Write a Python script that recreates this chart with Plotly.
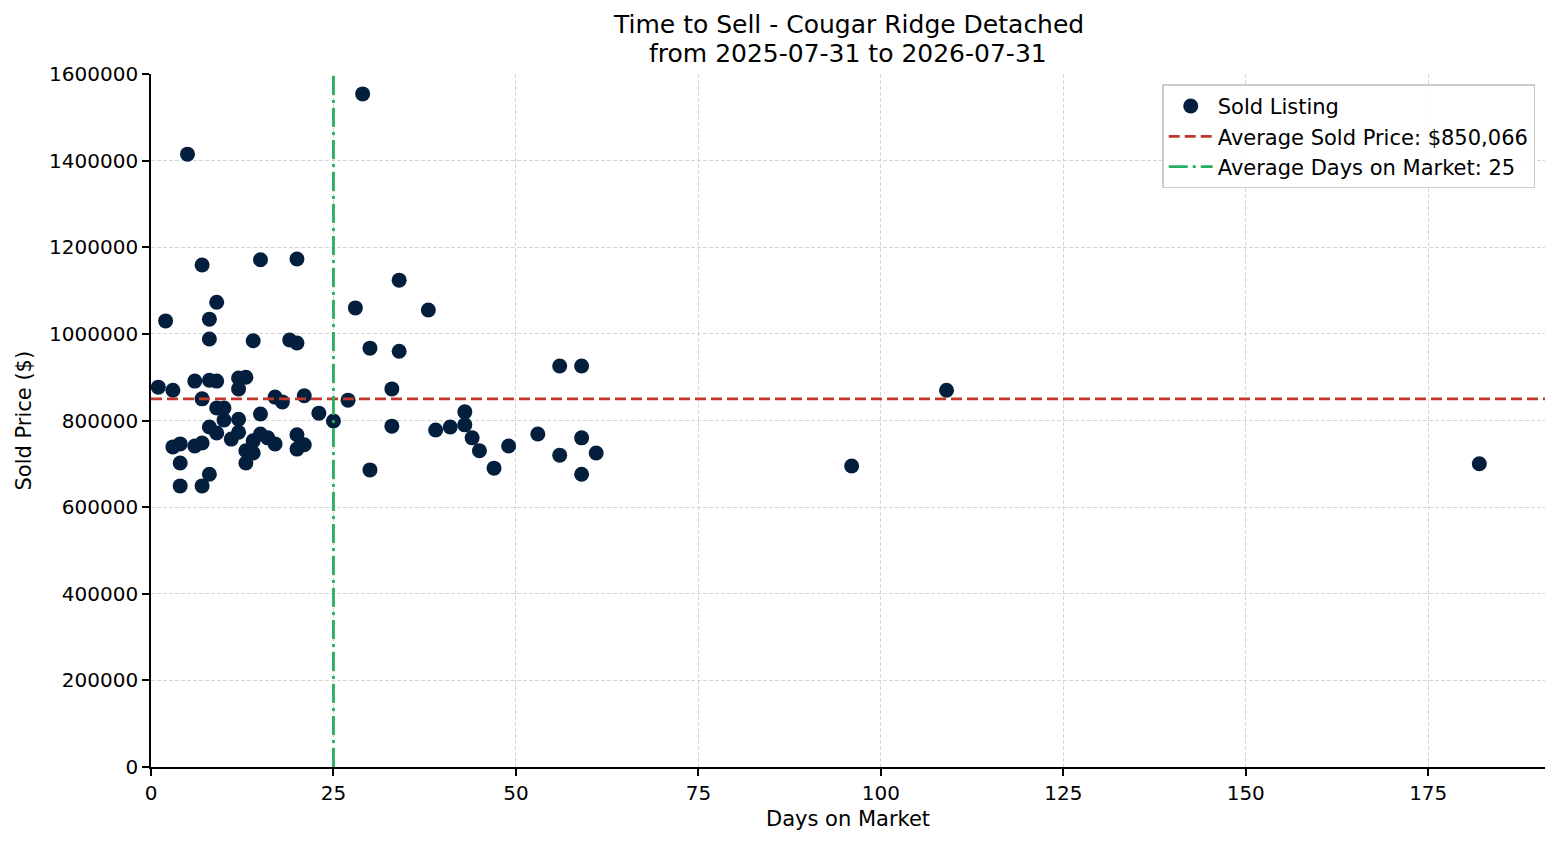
import plotly.graph_objects as go

days = [1, 3, 2, 5, 3, 4, 4, 4, 6, 6, 7, 7, 7, 7, 8, 8, 8, 8, 8, 9, 9, 9, 9, 10, 10,
        11, 12, 12, 12, 12, 13, 13, 13, 14, 14, 14, 15, 15, 15, 16, 17, 17, 18, 19, 20,
        20, 20, 20, 21, 21, 23, 25, 27, 28, 29, 30, 30, 33, 33, 34, 34, 38, 39, 41, 43,
        43, 44, 45, 47, 49, 53, 56, 56, 59, 59, 59, 61, 96, 109, 182]
prices = [877000, 870000, 1030000, 1415000, 739000, 746000, 702000, 649000, 891000, 741000,
          1159000, 850000, 748000, 649000, 1034000, 988000, 893000, 785000, 676000, 1073000,
          891000, 829000, 771000, 829000, 801000, 757000, 898000, 873000, 803000, 773000,
          900000, 730000, 702000, 984000, 753000, 725000, 1171000, 815000, 769000, 760000,
          854000, 746000, 843000, 986000, 1173000, 979000, 767000, 734000, 857000, 744000,
          817000, 799000, 847000, 1060000, 1554000, 967000, 686000, 873000, 787000, 1124000,
          960000, 1055000, 778000, 785000, 820000, 790000, 760000, 730000, 690000, 741000,
          769000, 926000, 720000, 926000, 760000, 676000, 725000, 695000, 870000, 700000]
avg_price = 850066
avg_days = 25
x_range = [0, 191]
y_range = [0, 1600000]
x_ticks = [0, 25, 50, 75, 100, 125, 150, 175]
y_ticks = [0, 200000, 400000, 600000, 800000, 1000000, 1200000, 1400000, 1600000]
title_lines = ["Time to Sell - Cougar Ridge Detached", "from 2025-07-31 to 2026-07-31"]

FONT = "DejaVu Sans"
TXT = 21

fig = go.Figure()
fig.add_trace(go.Scatter(x=days, y=prices, mode="markers", name="Sold Listing",
                         marker=dict(color="#041e3d", size=15, line=dict(width=0))))
fig.add_trace(go.Scatter(x=x_range, y=[avg_price, avg_price], mode="lines",
                         name=f"Average Sold Price: ${avg_price:,}",
                         line=dict(color="#c0392b", width=2.8, dash="11px,5px")))
fig.add_trace(go.Scatter(x=[avg_days, avg_days], y=y_range, mode="lines",
                         name=f"Average Days on Market: {avg_days}",
                         line=dict(color="#27ae60", width=2.8, dash="19px,5px,3px,5px")))

# plot area: x 151..1545, y 74..767 in the window (body has an 8px margin)
fig.update_layout(
    width=1544, height=829,
    margin=dict(l=143, r=7, t=66, b=70),
    plot_bgcolor="white", paper_bgcolor="white",
    font=dict(family=FONT, size=TXT, color="black"),
    showlegend=True,
    legend=dict(x=0.993, y=0.985, xanchor="right", yanchor="top",
                bordercolor="#cccccc", borderwidth=1.5, bgcolor="rgba(255,255,255,0.85)",
                itemwidth=44, font=dict(size=TXT, family=FONT)),
    xaxis=dict(range=x_range, tickvals=x_ticks,
               showgrid=True, gridcolor="#d6d6d6", griddash="4px,2px", gridwidth=1,
               showline=True, linecolor="black", linewidth=1.6, ticks="outside",
               ticklen=7, tickwidth=1.6, tickcolor="black", zeroline=False,
               tickfont=dict(size=TXT - 1)),
    yaxis=dict(range=y_range, tickvals=y_ticks, tickformat="d",
               showgrid=True, gridcolor="#d6d6d6", griddash="4px,2px", gridwidth=1,
               showline=True, linecolor="black", linewidth=1.6, ticks="outside",
               ticklen=7, tickwidth=1.6, tickcolor="black", zeroline=False,
               tickfont=dict(size=TXT - 1)),
    annotations=[
        dict(text=title_lines[0], xref="paper", yref="paper", x=0.5, y=(767 - 25) / 693,
             xanchor="center", yanchor="middle", showarrow=False, font=dict(size=25)),
        dict(text=title_lines[1], xref="paper", yref="paper", x=0.5, y=(767 - 53) / 693,
             xanchor="center", yanchor="middle", showarrow=False, font=dict(size=25)),
        dict(text="Days on Market", xref="paper", yref="paper", x=0.5, y=(767 - 819) / 693,
             xanchor="center", yanchor="middle", showarrow=False, font=dict(size=TXT)),
        dict(text="Sold Price ($)", xref="paper", yref="paper", x=(23 - 151) / 1394, y=0.5,
             xanchor="center", yanchor="middle", showarrow=False, textangle=-90,
             font=dict(size=TXT)),
    ],
)

fig.write_html("out.html")
